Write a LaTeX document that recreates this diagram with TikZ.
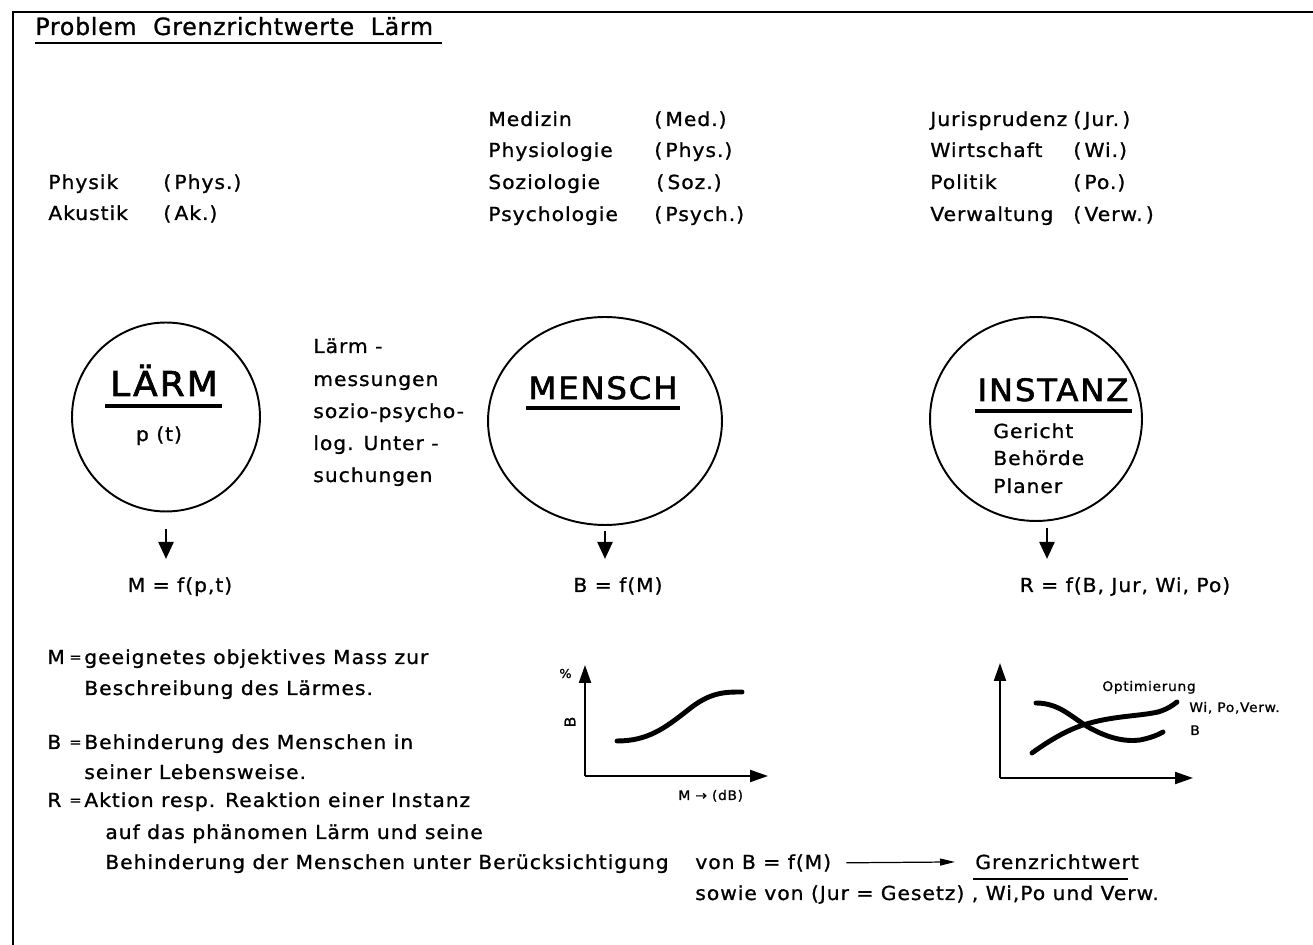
\documentclass[tikz,border=0pt]{standalone}
\usepackage{fontspec}
\setmainfont{DejaVu Sans}
\newfontfamily\tf[FakeStretch=1.05,LetterSpace=5,FakeBold=1]{DejaVu Sans}
\newfontfamily\titlef[FakeStretch=1.0,LetterSpace=3,FakeBold=1]{DejaVu Sans}
\newfontfamily\bigf[FakeStretch=1.05,LetterSpace=6,FakeBold=2]{DejaVu Sans}
\usetikzlibrary{shapes.geometric,arrows.meta}
\tikzset{
 txt/.style={anchor=base west, inner sep=0pt, font=\tf\fontsize{11}{13}\selectfont},
 ctxt/.style={anchor=base, inner sep=0pt, font=\tf\fontsize{11}{13}\selectfont},
 eqsign/.style={anchor=base west, inner sep=0pt, font=\tf\fontsize{8}{9}\selectfont},
 bigl/.style={anchor=base, inner sep=0pt, font=\bigf\fontsize{17.5}{20}\selectfont},
 smalll/.style={anchor=base west, inner sep=0pt, font=\tf\fontsize{7.5}{9}\selectfont},
 ring/.style={draw, ellipse, line width=1.1pt, inner sep=0pt},
 darr/.style={-{Triangle[width=0.3cm,length=0.34cm]}, line width=1.4pt},
 axarr/.style={-{Triangle[width=0.24cm,length=0.36cm]}, line width=1.2pt},
 crv/.style={line width=2.8pt, line cap=round},
 ul/.style={line width=2pt},
}
\begin{document}
\begin{tikzpicture}[x=0.02cm, y=-0.02cm]
\useasboundingbox (0,0) rectangle (1313,945);
% frame
\draw[line width=1.1pt] (13,945) -- (13,12) -- (1313,12);
% title
\node[anchor=base west, inner sep=0pt, font=\titlef\fontsize{13.5}{16}\selectfont] (title) at (35,35) {Problem\hspace{0.7em}Grenzrichtwerte\hspace{0.7em}Lärm};
\draw[line width=1.5pt] (35,43) -- (442,43);
% left list
\node[txt] (phys) at (48,189) {Physik};
\node[txt] (physA) at (163,189) {(\,Phys.)};
\node[txt] (akus) at (48,220) {Akustik};
\node[txt] (akusA) at (163,220) {(\,Ak.)};
% middle list
\node[txt] (med) at (488,126) {Medizin};
\node[txt] (medA) at (654,126) {(\,Med.)};
\node[txt] (physio) at (488,157) {Physiologie};
\node[txt] (physioA) at (654,157) {(\,Phys.)};
\node[txt] (sozio) at (488,189) {Soziologie};
\node[txt] (sozioA) at (656,189) {(\,Soz.)};
\node[txt] (psych) at (488,221) {Psychologie};
\node[txt] (psychA) at (654,221) {(\,Psych.)};
% right list
\node[txt] (jur) at (930,126) {Jurisprudenz};
\node[txt] (jurA) at (1073,126) {(\,Jur.\,)};
\node[txt] (wi) at (930,157) {Wirtschaft};
\node[txt] (wiA) at (1073,157) {(\,Wi.)};
\node[txt] (po) at (930,189) {Politik};
\node[txt] (poA) at (1073,189) {(\,Po.)};
\node[txt] (verw) at (930,221) {Verwaltung};
\node[txt] (verwA) at (1073,221) {(\,Verw.\,)};
% circles
\node[ring, minimum width=3.76cm, minimum height=3.78cm] (laerm) at (166,417) {};
\node[ring, minimum width=4.68cm, minimum height=4.16cm] (mensch) at (605,421) {};
\node[ring, minimum width=4.24cm, minimum height=4.08cm] (instanz) at (1036,419) {};
% circle labels
\node[bigl, font=\bigf\fontsize{19.5}{22}\selectfont] (lLaerm) at (164,396) {LÄRM};
\draw[ul] (105,406) -- (222,406);
\node[ctxt] (pt) at (159,441) {p (t)};
\node[bigl] (lMensch) at (603,399) {MENSCH};
\draw[ul] (526,408) -- (680,408);
\node[bigl] (lInst) at (1053,401) {INSTANZ};
\draw[ul] (975,411) -- (1132,411);
\node[txt] (ger) at (993,438) {Gericht};
\node[txt] (beh) at (993,465) {Behörde};
\node[txt] (plan) at (993,493) {Planer};
% middle text
\node[txt] (m1) at (313,353) {Lärm -};
\node[txt] (m2) at (313,386) {messungen};
\node[txt] (m3) at (313,418) {sozio-psycho-};
\node[txt] (m4) at (313,450) {log. Unter -};
\node[txt] (m5) at (313,482) {suchungen};
% equations
\node[ctxt] (eqM) at (180,592) {M = f(p,t)};
\node[ctxt] (eqB) at (618,592) {B = f(M)};
\node[ctxt] (eqR) at (1125,592) {R = f(B, Jur, Wi, Po)};
\draw[darr, shorten <=0.34cm, shorten >=0.36cm] (laerm.south) -- (laerm.south |- eqM.north);
\draw[darr, shorten <=0.1cm, shorten >=0.36cm] (mensch.south) -- (mensch.south |- eqB.north);
\draw[darr, shorten <=0.12cm, shorten >=0.36cm] ([xshift=0.22cm]instanz.south) -- ([xshift=0.22cm]instanz.south |- eqR.north);
% definitions
\node[txt] (dM) at (47,664) {M};
\node[eqsign] (dMe) at (69,662) {=};
\node[txt] (dM1) at (84,664) {geeignetes objektives Mass zur};
\node[txt] (dM2) at (84,695) {Beschreibung des Lärmes.};
\node[txt] (dB) at (47,749) {B};
\node[eqsign] (dBe) at (69,747) {=};
\node[txt] (dB1) at (84,749) {Behinderung des Menschen in};
\node[txt] (dB2) at (84,779) {seiner Lebensweise.};
\node[txt] (dR) at (47,807) {R};
\node[eqsign] (dRe) at (69,805) {=};
\node[txt] (dR1) at (84,807) {Aktion resp. Reaktion einer Instanz};
\node[txt] (dR2) at (105,839) {auf das phänomen Lärm und seine};
\node[txt] (dR3) at (105,869) {Behinderung der Menschen unter Berücksichtigung};
\node[txt] (vonB) at (695,869) {von B = f(M)};
\node[txt] (grenz) at (975,869) {Grenzrichtwert};
\draw[line width=1.5pt] (973,879) -- (1128,879);
\draw[-{Triangle[width=0.14cm,length=0.3cm]}, line width=0.7pt, shorten <=0.3cm, shorten >=0.4cm] (vonB.east) -- (grenz.west);
\node[txt] (sowie) at (695,900) {sowie von (Jur = Gesetz) , Wi,Po und Verw.};
% graph 1
\coordinate (g1o) at (585,776);
\coordinate (g1y) at (585,665);
\coordinate (g1x) at (768,776);
\draw[axarr] (g1o) -- (g1y);
\draw[axarr] (g1o) -- (g1x);
\draw[crv] (617,741) .. controls (648,741) and (665,728) .. (688,710) .. controls (710,692) and (725,692) .. (742,692);
\node[smalll, font=\tf\fontsize{7}{8}\selectfont] (pct) at (559,678) {\%};
\node[inner sep=0pt, rotate=90, font=\tf\fontsize{8.5}{9}\selectfont] (gB) at (570,722) {B};
\node[smalll] (gMdB) at (678,800) {M → (dB)};
% graph 2
\coordinate (g2o) at (1000,778);
\coordinate (g2y) at (1000,663);
\coordinate (g2x) at (1193,778);
\draw[axarr] (g2o) -- (g2y);
\draw[axarr] (g2o) -- (g2x);
\draw[crv] (1032,753) .. controls (1050,740) and (1070,728) .. (1090,723) .. controls (1115,716) and (1140,716) .. (1158,712) .. controls (1168,709) and (1173,705) .. (1177,702);
\draw[crv] (1036,703) .. controls (1060,703) and (1072,718) .. (1090,728) .. controls (1108,738) and (1125,742) .. (1140,740) .. controls (1150,738) and (1158,735) .. (1163,732);
\node[smalll] (opt) at (1102,691) {Optimierung};
\node[smalll] (wpv) at (1189,712) {Wi, Po,Verw.};
\node[smalll] (gB2) at (1190,735) {B};
\end{tikzpicture}
\end{document}
